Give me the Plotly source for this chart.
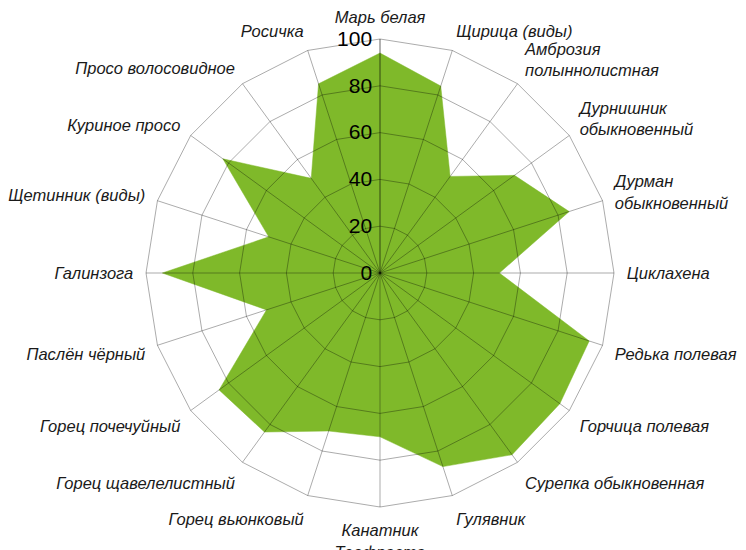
import plotly.graph_objects as go

categories = [
    "Марь белая", "Щирица (виды)", "Амброзия<br>полыннолистная",
    "Дурнишник<br>обыкновенный", "Дурман<br>обыкновенный", "Циклахена",
    "Редька полевая", "Горчица полевая", "Сурепка обыкновенная", "Гулявник",
    "Канатник<br>Теофраста", "Горец вьюнковый", "Горец щавелелистный",
    "Горец почечуйный", "Паслён чёрный", "Галинзога", "Щетинник (виды)",
    "Куриное просо", "Просо волосовидное", "Росичка",
]
values = [94, 84, 51, 71, 85, 51, 94, 95, 96, 87,
          70, 71, 84, 85, 51, 93, 50, 83, 50, 85]
radial_ticks = [0, 20, 40, 60, 80, 100]

fill_color = "#7fb92a"
grid_color = "rgba(0,0,0,0.33)"

r_closed = values + values[:1]
t_closed = categories + categories[:1]

fig = go.Figure()
fig.add_trace(go.Scatterpolar(
    r=r_closed, theta=t_closed, mode="lines", fill="toself",
    fillcolor=fill_color, line=dict(color=fill_color, width=0.5),
    hoverinfo="skip", subplot="polar",
))
fig.add_trace(go.Scatterpolar(
    r=r_closed, theta=t_closed, mode="lines",
    line=dict(color="rgba(0,0,0,0)", width=0),
    hoverinfo="skip", subplot="polar2",
))

W, H = 738, 542
dom = dict(x=[138 / W, 606 / W], y=[43 / H, 511 / H])

base_angular = dict(
    type="category", categoryorder="array", categoryarray=categories,
    direction="clockwise", rotation=90,
)
fig.update_layout(
    width=W, height=H,
    margin=dict(l=0, r=0, t=0, b=0, autoexpand=False),
    paper_bgcolor="white",
    showlegend=False,
    polar=dict(
        domain=dom, gridshape="linear", bgcolor="white",
        radialaxis=dict(range=[0, 100], showgrid=False, showline=False,
                        showticklabels=False, ticks=""),
        angularaxis=dict(**base_angular, showgrid=False, showline=False,
                         showticklabels=False, ticks=""),
    ),
    polar2=dict(
        domain=dom, gridshape="linear", bgcolor="rgba(0,0,0,0)",
        radialaxis=dict(
            range=[0, 100], tickvals=radial_ticks, angle=90, tickangle=90,
            showgrid=True, gridcolor=grid_color, gridwidth=1,
            showline=True, linecolor=grid_color, linewidth=1,
            ticks="", side="counterclockwise",
            tickfont=dict(family="Liberation Sans, Arial", size=21, color="black"),
        ),
        angularaxis=dict(
            **base_angular,
            showgrid=True, gridcolor=grid_color, gridwidth=1,
            showline=True, linecolor=grid_color, linewidth=1,
            ticks="outside", ticklen=9, tickcolor="rgba(0,0,0,0)",
            tickfont=dict(family="Liberation Sans, Arial", size=16.5,
                          color="#1a1a1a", style="italic"),
        ),
    ),
)

fig.write_html("out.html")
